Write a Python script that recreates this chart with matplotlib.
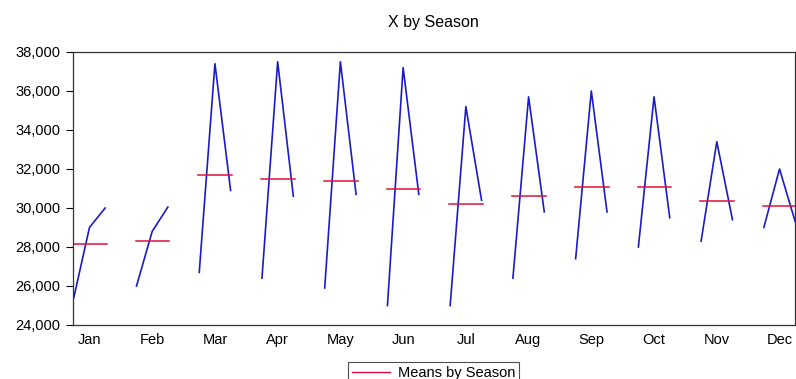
import matplotlib
matplotlib.use("Agg")
from matplotlib import pyplot as plt
from matplotlib.lines import Line2D
import numpy as np

plt.rcParams["font.family"] = ["Liberation Sans", "DejaVu Sans"]

months = ['Jan', 'Feb', 'Mar', 'Apr', 'May', 'Jun',
          'Jul', 'Aug', 'Sep', 'Oct', 'Nov', 'Dec']

year1 = [25400, 26000, 26700, 26400, 25900, 25000, 25000, 26400, 27400, 28000, 28300, 29000]
year2 = [29000, 28800, 37400, 37500, 37500, 37200, 35200, 35700, 36000, 35700, 33400, 32000]
year3 = [30000, 30050, 30900, 30600, 30700, 30700, 30400, 29800, 29800, 29500, 29400, 29300]

obs = np.array([year1, year2, year3]).T
means = obs.mean(axis=1)

blue = '#1a1acc'
red = '#e0103a'

fig = plt.figure(figsize=(7.96, 3.79), dpi=100)
ax = fig.add_axes([0.0917, 0.1425, 0.9073, 0.7203])

n = obs.shape[1]
block = n + 1
for i, m in enumerate(months):
    x = np.arange(n) + i * block
    ax.plot(x, obs[i], color=blue, lw=1.2)
    ax.plot([x[0] - 0.05, x[-1] + 0.1], [means[i], means[i]], color=red, lw=1.1)

ax.set_xlim(-0.05, 46.0)
ax.set_ylim(24000, 38000)
ax.set_yticks(np.arange(24000, 38001, 2000))
ax.yaxis.set_major_formatter(matplotlib.ticker.FuncFormatter(lambda v, p: f'{int(v):,}'))
ax.set_xticks([i * block + (n - 1) / 2 for i in range(len(months))])
ax.set_xticklabels(months)
ax.tick_params(axis='x', length=0, pad=6, labelsize=10.5)
ax.tick_params(axis='y', length=5, width=0.8, pad=4, labelsize=10.5, direction='out')
for s in ax.spines.values():
    s.set_color('#333333')
    s.set_linewidth(0.9)

fig.text(0.545, 0.94, 'X by Season', ha='center', va='center', fontsize=11.5)

handle = Line2D([], [], color=red, lw=1.0)
leg = fig.legend([handle], ['Means by Season'], loc='lower center',
                 bbox_to_anchor=(0.545, -0.012), frameon=True, fancybox=False,
                 fontsize=10.5, handlelength=2.6, borderpad=0.25,
                 handletextpad=0.6, borderaxespad=0)
leg.get_frame().set_edgecolor('#222222')
leg.get_frame().set_linewidth(0.8)

fig.savefig('out.png', dpi=100)
